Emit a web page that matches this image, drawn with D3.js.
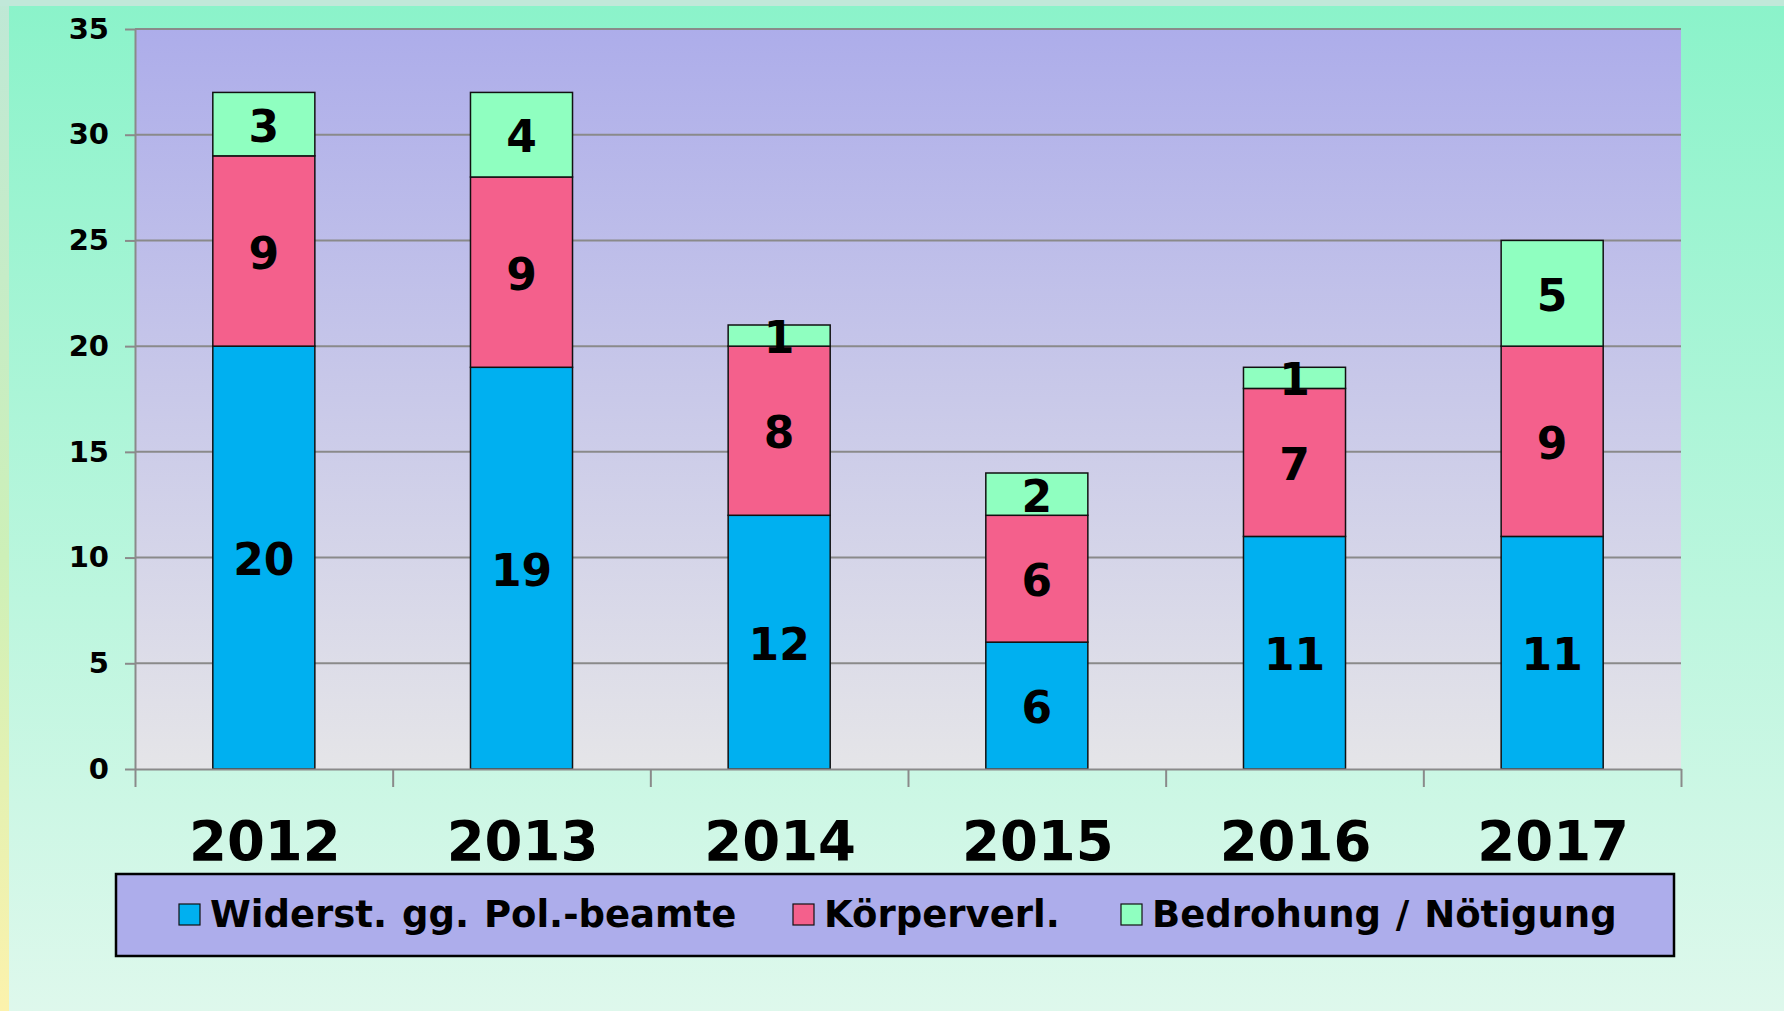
<!DOCTYPE html>
<html>
<head>
<meta charset="utf-8">
<script src="https://cdn.jsdelivr.net/npm/d3@7"></script>
<style>
  html, body { margin: 0; padding: 0; background: #ffffff; }
  svg { display: block; font-family: "DejaVu Sans", Verdana, sans-serif; font-weight: bold; }
</style>
</head>
<body>
<svg id="chart" width="1784" height="1011"></svg>
<script>
const years = ["2012", "2013", "2014", "2015", "2016", "2017"];
const widerstand = [20, 19, 12, 6, 11, 11];
const koerperverl = [9, 9, 8, 6, 7, 9];
const bedrohung = [3, 4, 1, 2, 1, 5];
const seriesNames = ["Widerst. gg. Pol.-beamte", "Körperverl.", "Bedrohung / Nötigung"];
const yTicks = [0, 5, 10, 15, 20, 25, 30, 35];

const colours = ["#00b0f0", "#f4608c", "#8fffc0"];

const width = 1784,
  height = 1011,
  plot = { left: 135, right: 1681, top: 29, bottom: 769 };

const svg = d3.select("#chart");
const defs = svg.append("defs");

// slide background gradients
const bgGrad = defs.append("linearGradient").attr("id", "bg").attr("x1", 0).attr("y1", 0).attr("x2", 0).attr("y2", 1);
bgGrad.append("stop").attr("offset", "0%").attr("stop-color", "#8bf3ca");
bgGrad.append("stop").attr("offset", "100%").attr("stop-color", "#def8ec");

const edgeGrad = defs.append("linearGradient").attr("id", "edge").attr("x1", 0).attr("y1", 0).attr("x2", 0).attr("y2", 1);
edgeGrad.append("stop").attr("offset", "0%").attr("stop-color", "#bfe8d6");
edgeGrad.append("stop").attr("offset", "55%").attr("stop-color", "#cdf0b8");
edgeGrad.append("stop").attr("offset", "100%").attr("stop-color", "#fcf2ac");

const plotGrad = defs.append("linearGradient").attr("id", "plotbg").attr("x1", 0).attr("y1", 0).attr("x2", 0).attr("y2", 1);
plotGrad.append("stop").attr("offset", "0%").attr("stop-color", "#adadea");
plotGrad.append("stop").attr("offset", "100%").attr("stop-color", "#e5e5e8");

svg.append("rect").attr("width", width).attr("height", height).attr("fill", "url(#edge)");
svg.append("rect").attr("x", 0).attr("y", 0).attr("width", width).attr("height", 6).attr("fill", "#c1e8d9");
svg.append("rect").attr("x", 9).attr("y", 6).attr("width", width - 9).attr("height", height - 6).attr("fill", "url(#bg)");

// scales
const x = d3.scaleBand()
  .domain(years)
  .range([plot.left, plot.right])
  .paddingInner(0.604)
  .paddingOuter(0.302);

const y = d3.scaleLinear().domain([0, 35]).range([plot.bottom, plot.top]);

const boundary = d3.scaleLinear().domain([0, years.length]).range([plot.left, plot.right]);

// plot area
svg.append("rect")
  .attr("x", plot.left)
  .attr("y", plot.top)
  .attr("width", plot.right - plot.left)
  .attr("height", plot.bottom - plot.top)
  .attr("fill", "url(#plotbg)");

svg.append("g")
  .selectAll("line")
  .data(yTicks.filter((d) => d > 0))
  .enter()
  .append("line")
  .attr("x1", plot.left)
  .attr("x2", plot.right)
  .attr("y1", (d) => y(d))
  .attr("y2", (d) => y(d))
  .attr("stroke", "#8a8a8a")
  .attr("stroke-width", 2);

// stacked bars
const rows = years.map((yr, i) => ({
  year: yr,
  s0: widerstand[i],
  s1: koerperverl[i],
  s2: bedrohung[i],
}));

const stacked = d3.stack().keys(["s0", "s1", "s2"])(rows);

const layer = svg.append("g")
  .selectAll("g")
  .data(stacked)
  .enter()
  .append("g")
  .attr("fill", (d, i) => colours[i]);

layer.selectAll("rect")
  .data((d) => d)
  .enter()
  .append("rect")
  .attr("x", (d) => x(d.data.year))
  .attr("y", (d) => y(d[1]))
  .attr("width", x.bandwidth())
  .attr("height", (d) => y(d[0]) - y(d[1]))
  .attr("stroke", "#111")
  .attr("stroke-width", 1.5);

layer.selectAll("text")
  .data((d) => d)
  .enter()
  .append("text")
  .attr("x", (d) => x(d.data.year) + x.bandwidth() / 2)
  .attr("y", (d) => (y(d[0]) + y(d[1])) / 2)
  .attr("dy", "0.4em")
  .attr("text-anchor", "middle")
  .attr("fill", "#000")
  .style("font-size", "44px")
  .text((d) => d[1] - d[0]);

// axes
const yAxis = svg.append("g")
  .attr("transform", `translate(${plot.left},0)`)
  .call(d3.axisLeft(y).tickValues(yTicks).tickSize(10).tickPadding(16).tickSizeOuter(0));

yAxis.select(".domain").attr("stroke", "#8a8a8a").attr("stroke-width", 2);
yAxis.selectAll(".tick line").attr("stroke", "#8a8a8a").attr("stroke-width", 2);
yAxis.selectAll(".tick text")
  .attr("fill", "#000")
  .style("font-size", "29px")
  .style("font-family", "'DejaVu Sans', Verdana, sans-serif")
  .style("font-weight", "bold");

const xAxis = svg.append("g")
  .attr("transform", `translate(0,${plot.bottom})`)
  .call(d3.axisBottom(boundary).tickValues(d3.range(years.length + 1)).tickSize(18).tickFormat("").tickSizeOuter(0));

xAxis.select(".domain").attr("stroke", "#8a8a8a").attr("stroke-width", 2);
xAxis.selectAll(".tick line").attr("stroke", "#8a8a8a").attr("stroke-width", 2);

svg.append("g")
  .selectAll("text")
  .data(years)
  .enter()
  .append("text")
  .attr("x", (d) => x(d) + x.bandwidth() / 2 + 1)
  .attr("y", 860)
  .attr("text-anchor", "middle")
  .style("font-size", "54.5px")
  .text((d) => d);

// legend
const legend = svg.append("g");

legend.append("rect")
  .attr("x", 116)
  .attr("y", 874)
  .attr("width", 1558)
  .attr("height", 82)
  .attr("fill", "#adadeb")
  .attr("stroke", "#000")
  .attr("stroke-width", 2.5);

const legendX = [179, 793, 1121];

const item = legend.selectAll("g.item")
  .data(seriesNames)
  .enter()
  .append("g")
  .attr("class", "item")
  .attr("transform", (d, i) => `translate(${legendX[i]},0)`);

item.append("rect")
  .attr("x", 0)
  .attr("y", 904)
  .attr("width", 21)
  .attr("height", 21)
  .attr("fill", (d, i) => colours[i])
  .attr("stroke", "#111")
  .attr("stroke-width", 1.2);

item.append("text")
  .attr("x", 31)
  .attr("y", 927)
  .style("font-size", "37px")
  .style("word-spacing", "2px")
  .text((d) => d);
</script>
</body>
</html>
